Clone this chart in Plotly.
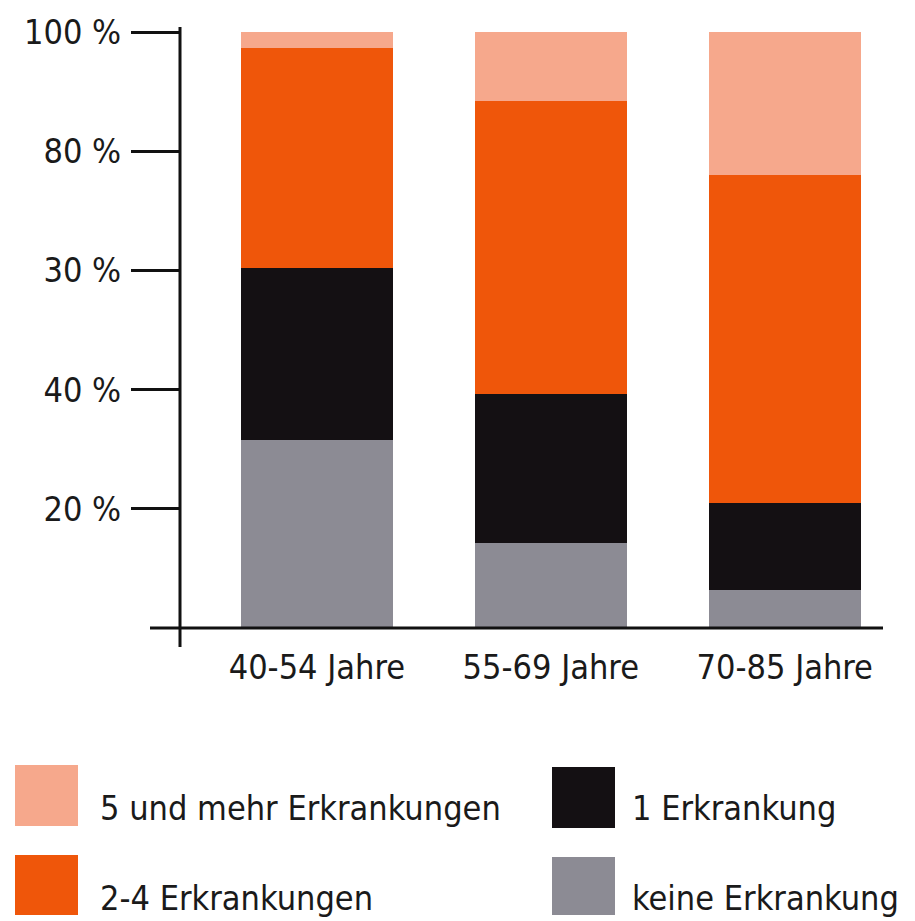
import plotly.graph_objects as go

# data (percent of each age group)
age_groups = ['40-54 Jahre', '55-69 Jahre', '70-85 Jahre']
keine = [31.5, 14.2, 6.4]
eine = [28.9, 25.1, 14.6]
zwei_vier = [36.9, 49.1, 55.0]
fuenf_plus = [2.7, 11.6, 24.0]

series_names = ['keine Erkrankung', '1 Erkrankung', '2-4 Erkrankungen', '5 und mehr Erkrankungen']
series_vals = [keine, eine, zwei_vier, fuenf_plus]
colors = ['#8c8b94', '#141013', '#ef560a', '#f6a88c']

# y tick labels as printed in the original (incl. the "30 %" misprint)
tick_vals = [20, 40, 60, 80, 100]
tick_text = ['20 %', '40 %', '30 %', '80 %', '100 %']

FONT = 'DejaVu Sans Condensed, DejaVu Sans, sans-serif'
W, H = 915, 921
L, R, T, B = 180, 32, 32, 293
PW, PH = W - L - R, H - T - B


def px(x):
    return (x - L) / PW


def py(y):
    return (H - B - y) / PH


def tfont(size):
    return dict(family=FONT, size=size, color='#1a1a1a')


fig = go.Figure()
for name, vals, c in zip(series_names, series_vals, colors):
    fig.add_trace(go.Bar(x=age_groups, y=vals, name=name, marker=dict(color=c, line_width=0),
                         width=0.65, showlegend=False))

fig.update_layout(
    barmode='stack', width=W, height=H, template='simple_white',
    margin=dict(l=L, r=R, t=T, b=B, autoexpand=False),
    paper_bgcolor='white', plot_bgcolor='white',
    font=tfont(34),
)
fig.update_xaxes(range=[-0.585, 2.42], showline=False, ticks='', ticklabelstandoff=16,
                 tickfont=tfont(34))
fig.update_yaxes(range=[0, 100], showline=False, ticks='outside', ticklen=48, tickwidth=3,
                 tickcolor='#111', tickvals=tick_vals, ticktext=tick_text,
                 ticklabelstandoff=3, tickfont=tfont(34), showgrid=False, zeroline=False)

# axis lines (crossing past each other as in the original)
fig.add_shape(type='line', xref='paper', yref='paper', x0=0, x1=0, y0=py(647), y1=py(27),
              line=dict(color='#111', width=3), opacity=1)
fig.add_shape(type='line', xref='paper', yref='paper', x0=px(150), x1=1, y0=0, y1=0,
              line=dict(color='#111', width=3), opacity=1)

# legend drawn as big swatches
legend_items = [
    (3, 15, 765, 826, 808, 100),
    (2, 15, 855, 915, 898, 100),
    (1, 552, 767, 828, 808, 632),
    (0, 552, 857, 915, 898, 632),
]
for idx, x0, y0, y1, ty, tx in legend_items:
    fig.add_shape(type='rect', xref='paper', yref='paper', x0=px(x0), x1=px(x0 + 63),
                  y0=py(y1), y1=py(y0), fillcolor=colors[idx], line_width=0, opacity=1)
    fig.add_annotation(xref='paper', yref='paper', x=px(tx), y=py(ty),
                       text=series_names[idx], showarrow=False, xanchor='left', yanchor='middle',
                       xshift=-2, font=tfont(34))

fig.write_html('out.html', config={'displayModeBar': False})

# drop the default page margin so the figure sits at the window's corner
with open('out.html', encoding='utf-8') as f:
    html = f.read()
html = html.replace('<body>', '<body style="margin:0;overflow:hidden">', 1)
with open('out.html', 'w', encoding='utf-8') as f:
    f.write(html)
